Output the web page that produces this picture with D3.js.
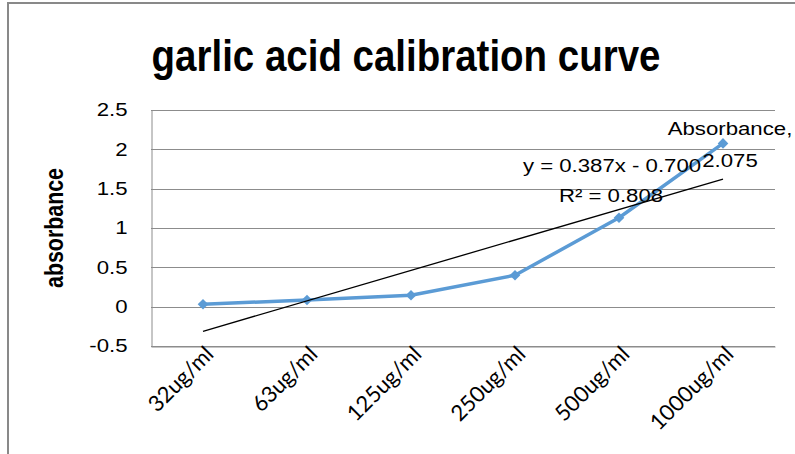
<!DOCTYPE html>
<html>
<head>
<meta charset="utf-8">
<script src="https://cdn.jsdelivr.net/npm/d3@7/dist/d3.min.js"></script>
<style>
  body { margin: 0; background: #fff; }
  svg { display: block; }
</style>
</head>
<body>
<div id="chart"></div>
<script>
// data
var categories = ["32ug/ml", "63ug/ml", "125ug/ml", "250ug/ml", "500ug/ml", "1000ug/ml"];
var absorbance = [0.03, 0.085, 0.145, 0.40, 1.13, 2.075];
var yTicks = [-0.5, 0, 0.5, 1, 1.5, 2, 2.5];
var trendSlope = 0.387, trendIntercept = -0.700, trendR2 = 0.808;

var width = 795, height = 454;
var margin = {top: 110, right: 20, bottom: 108, left: 151};
var sans = "'Liberation Sans', Arial, sans-serif";
var wide = 1.2;    // the regular labels are stretched sideways in the picture
var narrow = 0.855; // the bold ones are condensed

var svg = d3.select("#chart").append("svg")
    .attr("width", width)
    .attr("height", height);

// outer chart frame
svg.append("rect")
    .attr("x", 8).attr("y", 3)
    .attr("width", 800).attr("height", 470)
    .attr("fill", "none")
    .attr("stroke", "#898989")
    .attr("stroke-width", 2);

var x = d3.scaleBand()
    .domain(categories)
    .range([margin.left, width - margin.right]);

var y = d3.scaleLinear()
    .domain([-0.5, 2.5])
    .range([height - margin.bottom, margin.top]);

// gridlines
svg.append("g")
    .selectAll("line")
    .data(yTicks)
    .enter().append("line")
    .attr("x1", margin.left)
    .attr("x2", width - margin.right)
    .attr("y1", function(d) { return Math.round(y(d)) + 0.5; })
    .attr("y2", function(d) { return Math.round(y(d)) + 0.5; })
    .attr("stroke", "#8c8c8c")
    .attr("stroke-width", 1);

// y axis
var yAxis = svg.append("g")
    .attr("transform", "translate(" + (margin.left + 0.5) + ",0)")
    .call(d3.axisLeft(y).tickValues(yTicks).tickSize(0)
        .tickFormat(function(d) { return d; }));
yAxis.select(".domain").attr("stroke", "#8c8c8c");
yAxis.selectAll("text")
    .attr("x", 0)
    .attr("transform", "translate(-24,0) scale(" + wide + ",1)")
    .attr("font-family", sans)
    .attr("font-size", 18.5)
    .attr("fill", "#000");

// x axis at the bottom of the plot
var xAxis = svg.append("g")
    .attr("transform", "translate(0," + (Math.round(y(-0.5)) + 0.5) + ")")
    .call(d3.axisBottom(x).tickSize(0).tickPadding(0));
xAxis.select(".domain").attr("stroke", "#8c8c8c");
xAxis.selectAll("text")
    .attr("font-family", "Lato, 'Open Sans', sans-serif")
    .attr("font-size", 22)
    .attr("fill", "#000")
    .attr("text-anchor", "end")
    .attr("y", 0)
    .attr("dy", "0")
    .attr("transform", "translate(12,9) rotate(-45)");

// data line
var line = d3.line()
    .x(function(d, i) { return x(categories[i]) + x.bandwidth() / 2; })
    .y(function(d) { return y(d); });

svg.append("path")
    .datum(absorbance)
    .attr("d", line)
    .attr("fill", "none")
    .attr("stroke", "#5b9bd5")
    .attr("stroke-width", 3.5)
    .attr("stroke-linejoin", "round");

svg.selectAll(".marker")
    .data(absorbance)
    .enter().append("path")
    .attr("class", "marker")
    .attr("d", d3.symbol().type(d3.symbolDiamond2).size(72))
    .attr("transform", function(d, i) {
        return "translate(" + (x(categories[i]) + x.bandwidth() / 2) + "," + y(d) + ")";
    })
    .attr("fill", "#5b9bd5");

// linear trendline over x = 1..n
var trend = d3.line()
    .x(function(d) { return x(categories[d - 1]) + x.bandwidth() / 2; })
    .y(function(d) { return y(trendSlope * d + trendIntercept); });

svg.append("path")
    .datum([1, categories.length])
    .attr("d", trend)
    .attr("fill", "none")
    .attr("stroke", "#000")
    .attr("stroke-width", 1.3);

function label(cx, cy, txt, size, sx, bold, rot) {
    var g = svg.append("g")
        .attr("transform", "translate(" + cx + "," + cy + ")" + (rot ? " rotate(" + rot + ")" : "") +
              " scale(" + sx + ",1)");
    g.append("text")
        .attr("text-anchor", "middle")
        .attr("font-family", sans)
        .attr("font-weight", bold ? "bold" : "normal")
        .attr("font-size", size)
        .attr("fill", "#000")
        .text(txt);
    return g;
}

// trendline equation
label(612, 172, "y = " + trendSlope.toFixed(3) + "x - " + Math.abs(trendIntercept).toFixed(3), 18.5, wide);
label(611, 202, "R\u00b2 = " + trendR2.toFixed(3), 18.5, wide);

// data label for the last point
var last = absorbance.length - 1;
var lx = x(categories[last]) + x.bandwidth() / 2;
label(lx + 7, 135, "Absorbance,", 18.5, wide);
label(lx + 7, 167, absorbance[last].toFixed(3), 18.5, wide);

// title
label(406, 71, "garlic acid calibration curve", 45, narrow, true);

// y axis title
label(63, y(1), "absorbance", 25, narrow, true, -90);
</script>
</body>
</html>
